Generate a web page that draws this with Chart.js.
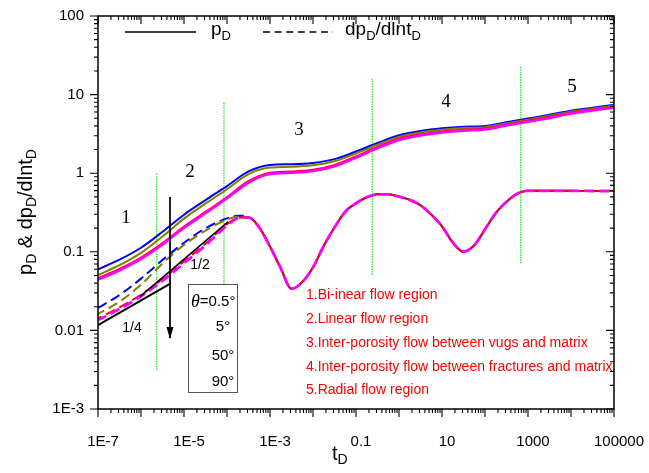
<!DOCTYPE html>
<html>
<head>
<meta charset="utf-8">
<script src="https://cdn.jsdelivr.net/npm/chart.js@4.4.0/dist/chart.umd.min.js"></script>
<style>
  html, body { margin: 0; padding: 0; background: #fff; }
  #caixa { width: 649px; height: 473px; }
</style>
</head>
<body>
<div id="caixa"><canvas id="grafico" width="649" height="473"></canvas></div>
<script>
// tempos (t_D) para as curvas de p_D
const tempoP = [1e-7, 3.16e-7, 1e-6, 3.16e-6, 1e-5, 3.16e-5, 1e-4, 3.16e-4, 1e-3, 3.16e-3, 0.01, 0.0316, 0.1, 0.316, 1, 3.16, 10, 31.6, 100, 316, 1000, 3162, 1e4, 31623, 1e5];

// p_D para cada angulo
const pD05 = [0.0598, 0.0793, 0.1125, 0.1795, 0.2965, 0.454, 0.685, 1.054, 1.274, 1.300, 1.352, 1.510, 1.888, 2.421, 3.034, 3.443, 3.724, 3.899, 3.990, 4.446, 4.955, 5.534, 6.252, 6.808, 7.413];
const pD5 = [0.0507, 0.0675, 0.0969, 0.1563, 0.2642, 0.4095, 0.625, 0.973, 1.178, 1.208, 1.261, 1.416, 1.782, 2.302, 2.897, 3.302, 3.579, 3.755, 3.850, 4.295, 4.796, 5.368, 6.071, 6.617, 7.213];
const pD50 = [0.0462, 0.0604, 0.0844, 0.1288, 0.2099, 0.3214, 0.4985, 0.790, 1.011, 1.049, 1.106, 1.274, 1.636, 2.155, 2.741, 3.128, 3.404, 3.584, 3.694, 4.150, 4.653, 5.196, 5.896, 6.441, 7.029];
const pD90 = [0.0446, 0.0584, 0.0815, 0.1244, 0.2028, 0.3105, 0.4816, 0.7631, 0.9772, 1.014, 1.069, 1.231, 1.584, 2.089, 2.661, 3.040, 3.311, 3.490, 3.599, 4.046, 4.539, 5.069, 5.752, 6.284, 6.857];

// tempos para as derivadas
const tempoD = [1e-7, 3.16e-7, 1e-6, 3.16e-6, 1e-5, 3.16e-5, 1e-4, 1.78e-4, 3.16e-4, 5.62e-4, 1e-3, 1.78e-3, 3.16e-3, 5.62e-3, 0.01, 0.0178, 0.0316, 0.0562, 0.1, 0.178, 0.316, 0.562, 1, 1.78, 3.16, 5.62, 10, 17.8, 31.6, 56.2, 100, 178, 316, 562, 1000, 3162, 1e4, 31623, 1e5];

// dp_D/dlnt_D para cada angulo
const dpD05 = [0.0193, 0.0282, 0.0456, 0.0787, 0.1303, 0.1995, 0.266, 0.2884, 0.2786, 0.204, 0.1164, 0.0617, 0.0339, 0.0412, 0.0634, 0.1189, 0.2037, 0.3236, 0.4150, 0.4943, 0.5383, 0.5383, 0.5035, 0.4581, 0.3908, 0.2972, 0.2109, 0.1315, 0.1002, 0.1211, 0.1932, 0.3105, 0.4325, 0.5483, 0.5970, 0.597, 0.596, 0.594, 0.594];
const dpD5 = [0.0162, 0.0232, 0.0381, 0.0710, 0.1225, 0.1862, 0.257, 0.2793, 0.2754, 0.204, 0.1164, 0.0617, 0.0339, 0.0412, 0.0634, 0.1189, 0.2037, 0.3236, 0.4150, 0.4943, 0.5383, 0.5383, 0.5035, 0.4581, 0.3908, 0.2972, 0.2109, 0.1315, 0.1002, 0.1211, 0.1932, 0.3105, 0.4325, 0.5483, 0.5970, 0.597, 0.596, 0.594, 0.594];
const dpD50 = [0.0142, 0.0196, 0.0285, 0.0450, 0.0754, 0.1268, 0.2244, 0.2708, 0.2750, 0.204, 0.1164, 0.0617, 0.0339, 0.0412, 0.0634, 0.1189, 0.2037, 0.3236, 0.4150, 0.4943, 0.5383, 0.5383, 0.5035, 0.4581, 0.3908, 0.2972, 0.2109, 0.1315, 0.1002, 0.1211, 0.1932, 0.3105, 0.4325, 0.5483, 0.5970, 0.597, 0.596, 0.594, 0.594];
const dpD90 = [0.01355, 0.01871, 0.02716, 0.04285, 0.07178, 0.1208, 0.2158, 0.2655, 0.2723, 0.204, 0.1164, 0.0617, 0.0339, 0.0412, 0.0634, 0.1189, 0.2037, 0.3236, 0.4150, 0.4943, 0.5383, 0.5383, 0.5035, 0.4581, 0.3908, 0.2972, 0.2109, 0.1315, 0.1002, 0.1211, 0.1932, 0.3105, 0.4325, 0.5483, 0.5970, 0.597, 0.596, 0.594, 0.594];

// retas de inclinacao 1/4 e 1/2
const tempoQuarto = [1e-7, 4.91e-6];
const valorQuarto = [0.0117, 0.0397];
const tempoMeio = [9.5e-7, 1.07e-4];
const valorMeio = [0.0269, 0.2415];

// seta (aumento do angulo)
const tempoSeta = [4.72e-6, 4.72e-6];
const valorSeta = [0.498, 0.0080];

// linhas verdes que separam os regimes
const tempoDivisa = [2.32e-6, 8.5e-5, 0.239, 676];
const topoDivisa = [1.0, 8.13, 16.1, 23.1];
const baseDivisa = [0.00313, 0.0389, 0.0507, 0.0714];

// ticks
const valoresX = [1e-7, 1e-5, 1e-3, 0.1, 10, 1000, 1e5];
const rotulosX = ['1E-7', '1E-5', '1E-3', '0.1', '10', '1000', '100000'];
const valoresY = [1e-3, 0.01, 0.1, 1, 10, 100];
const rotulosY = ['1E-3', '0.01', '0.1', '1', '10', '100'];

const regioes = ['1.Bi-inear flow region', '2.Linear flow region', '3.Inter-porosity flow between vugs and matrix', '4.Inter-porosity flow between fractures and matrix', '5.Radial flow region'];
const angulos = ['5°', '50°', '90°'];

const SANS = '"Liberation Sans", Arial, sans-serif';
const SERIF = '"Liberation Serif", "Times New Roman", serif';

function pontos(ts, ys) {
    return ts.map((t, i) => ({ x: t, y: ys[i] }));
}

// escreve texto com indices (subscritos)
function textoComIndice(ctx, partes, x, y, tam, tamSub, soMedir) {
    let cx = x;
    partes.forEach(([txt, sub]) => {
        ctx.font = (sub ? tamSub : tam) + 'px ' + SANS;
        if (!soMedir) ctx.fillText(txt, cx, sub ? y + tam * 0.32 : y);
        cx += ctx.measureText(txt).width;
    });
    return cx - x;
}

const datasets = [];

tempoDivisa.forEach((t, i) => {
    datasets.push({
        data: [{ x: t, y: baseDivisa[i] }, { x: t, y: topoDivisa[i] }],
        borderColor: '#33e633', borderWidth: 1.3, borderDash: [1.5, 1], order: 20
    });
});

const series = [
    { p: pD05, d: dpD05, cor: '#0000ff', larg: 2, off: 0 },
    { p: pD5, d: dpD5, cor: '#808000', larg: 2, off: 3 },
    { p: pD50, d: dpD50, cor: '#ff0000', larg: 2, off: 6 },
    { p: pD90, d: dpD90, cor: '#ff00ff', larg: 2.8, off: 1 }
];
series.forEach((s, i) => {
    datasets.push({
        data: pontos(tempoP, s.p), borderColor: s.cor, borderWidth: s.larg,
        cubicInterpolationMode: 'monotone', order: 10 - i
    });
    datasets.push({
        data: pontos(tempoD, s.d), borderColor: s.cor, borderWidth: s.larg,
        borderDash: [10, 5], borderDashOffset: s.off,
        cubicInterpolationMode: 'monotone', order: 10 - i
    });
});

datasets.push({ data: pontos(tempoQuarto, valorQuarto), borderColor: '#000', borderWidth: 2, order: 1 });
datasets.push({ data: pontos(tempoMeio, valorMeio), borderColor: '#000', borderWidth: 1.6, order: 1 });
datasets.push({ data: pontos(tempoSeta, valorSeta), borderColor: '#000', borderWidth: 1, order: 1 });

const anotacoes = {
    id: 'anotacoes',
    afterDatasetsDraw(chart) {
        const ctx = chart.ctx, a = chart.chartArea;
        const sx = chart.scales.x, sy = chart.scales.y;
        ctx.save();

        // ponta da seta
        const ax = sx.getPixelForValue(tempoSeta[1]);
        const ay = sy.getPixelForValue(valorSeta[1]);
        ctx.fillStyle = '#000';
        ctx.beginPath();
        ctx.moveTo(ax, ay + 1);
        ctx.lineTo(ax - 3.5, ay - 11);
        ctx.lineTo(ax + 3.5, ay - 11);
        ctx.closePath();
        ctx.fill();

        // moldura e ticks
        ctx.strokeStyle = '#000';
        ctx.lineWidth = 1.5;
        ctx.strokeRect(a.left, a.top, a.right - a.left, a.bottom - a.top);
        ctx.lineWidth = 1.1;
        ctx.beginPath();
        for (let e = -7; e <= 5; e++) {
            for (let k = 1; k <= 9; k++) {
                const v = k * Math.pow(10, e);
                if (v > 1.0001e5) break;
                const px = sx.getPixelForValue(v);
                const len = k === 1 ? 8 : 4;
                ctx.moveTo(px, a.bottom); ctx.lineTo(px, a.bottom + len);
                ctx.moveTo(px, a.top); ctx.lineTo(px, a.top + len);
            }
        }
        for (let e = -3; e <= 2; e++) {
            for (let k = 1; k <= 9; k++) {
                const v = k * Math.pow(10, e);
                if (v > 100.01) break;
                const py = sy.getPixelForValue(v);
                const len = k === 1 ? 8 : 4;
                ctx.moveTo(a.left, py); ctx.lineTo(a.left - len, py);
                ctx.moveTo(a.right, py); ctx.lineTo(a.right - len, py);
            }
        }
        ctx.stroke();

        // legenda
        ctx.lineWidth = 1.5;
        ctx.beginPath();
        ctx.moveTo(125, 32); ctx.lineTo(196, 32);
        ctx.stroke();
        ctx.setLineDash([7, 4.6]);
        ctx.beginPath();
        ctx.moveTo(263, 32); ctx.lineTo(333, 32);
        ctx.stroke();
        ctx.setLineDash([]);
        ctx.fillStyle = '#000';
        ctx.textBaseline = 'middle';
        ctx.textAlign = 'left';
        textoComIndice(ctx, [['p', false], ['D', true]], 211, 30, 19, 13);
        textoComIndice(ctx, [['dp', false], ['D', true], ['/dlnt', false], ['D', true]], 345, 30, 19, 13);

        // numeros das regioes
        ctx.font = '19px ' + SERIF;
        ctx.textAlign = 'center';
        [[126, 218], [190, 172], [299, 130], [446, 102], [572, 87]].forEach(([x, y], i) => {
            ctx.fillText(String(i + 1), x, y);
        });

        // rotulos das inclinacoes
        ctx.font = '14px ' + SANS;
        ctx.fillText('1/2', 200, 265);
        ctx.fillText('1/4', 132, 328);

        // caixa dos angulos
        ctx.fillStyle = '#fff';
        ctx.fillRect(188, 284, 49, 108);
        ctx.strokeStyle = '#555';
        ctx.lineWidth = 1;
        ctx.strokeRect(188.5, 284.5, 49, 108);
        ctx.fillStyle = '#000';
        ctx.textAlign = 'left';
        ctx.font = 'italic 18px ' + SERIF;
        ctx.fillText('θ', 191, 302);
        const lt = ctx.measureText('θ').width;
        ctx.font = '15px ' + SANS;
        ctx.fillText('=0.5°', 191 + lt, 302);
        ctx.textAlign = 'center';
        [327, 356, 382].forEach((y, i) => ctx.fillText(angulos[i], 223, y));

        // descricao das regioes
        ctx.fillStyle = '#ff0000';
        ctx.textAlign = 'left';
        ctx.font = '14px ' + SANS;
        [295, 319, 343, 367, 390].forEach((y, i) => ctx.fillText(regioes[i], 306, y));

        // titulos dos eixos
        ctx.fillStyle = '#000';
        textoComIndice(ctx, [['t', false], ['D', true]], 332, 454, 20, 14);
        ctx.save();
        ctx.translate(28, 212);
        ctx.rotate(-Math.PI / 2);
        const partesY = [['p', false], ['D', true], [' & dp', false], ['D', true], ['/dlnt', false], ['D', true]];
        const w = textoComIndice(ctx, partesY, 0, 0, 20, 14, true);
        textoComIndice(ctx, partesY, -w / 2, -2, 20, 14);
        ctx.restore();

        ctx.restore();
    }
};

const grafico = new Chart(document.getElementById('grafico'), {
    type: 'line',
    data: { datasets: datasets },
    options: {
        responsive: false,
        animation: false,
        events: [],
        layout: { padding: { left: 0, right: 35, top: 16, bottom: 0 } },
        elements: { point: { radius: 0 }, line: { fill: false } },
        plugins: { legend: { display: false }, tooltip: { enabled: false } },
        scales: {
            x: {
                type: 'logarithmic', min: 1e-7, max: 1e5,
                grid: { display: false, drawTicks: false },
                border: { display: false },
                afterBuildTicks: (s) => { s.ticks = valoresX.map(v => ({ value: v })); },
                afterFit: (s) => { s.height = 64; s.paddingLeft = 0; s.paddingRight = 0; },
                ticks: {
                    autoSkip: false, maxRotation: 0, padding: 24, labelOffset: 5,
                    color: '#000', font: { family: SANS, size: 15 },
                    callback: (v, i) => rotulosX[i]
                }
            },
            y: {
                type: 'logarithmic', min: 1e-3, max: 100,
                grid: { display: false, drawTicks: false },
                border: { display: false },
                afterBuildTicks: (s) => { s.ticks = valoresY.map(v => ({ value: v })); },
                afterFit: (s) => { s.width = 98; s.paddingTop = 0; s.paddingBottom = 0; },
                ticks: {
                    autoSkip: false, padding: 14,
                    color: '#000', font: { family: SANS, size: 15 },
                    callback: (v, i) => rotulosY[i]
                }
            }
        }
    },
    plugins: [anotacoes]
});
</script>
</body>
</html>
